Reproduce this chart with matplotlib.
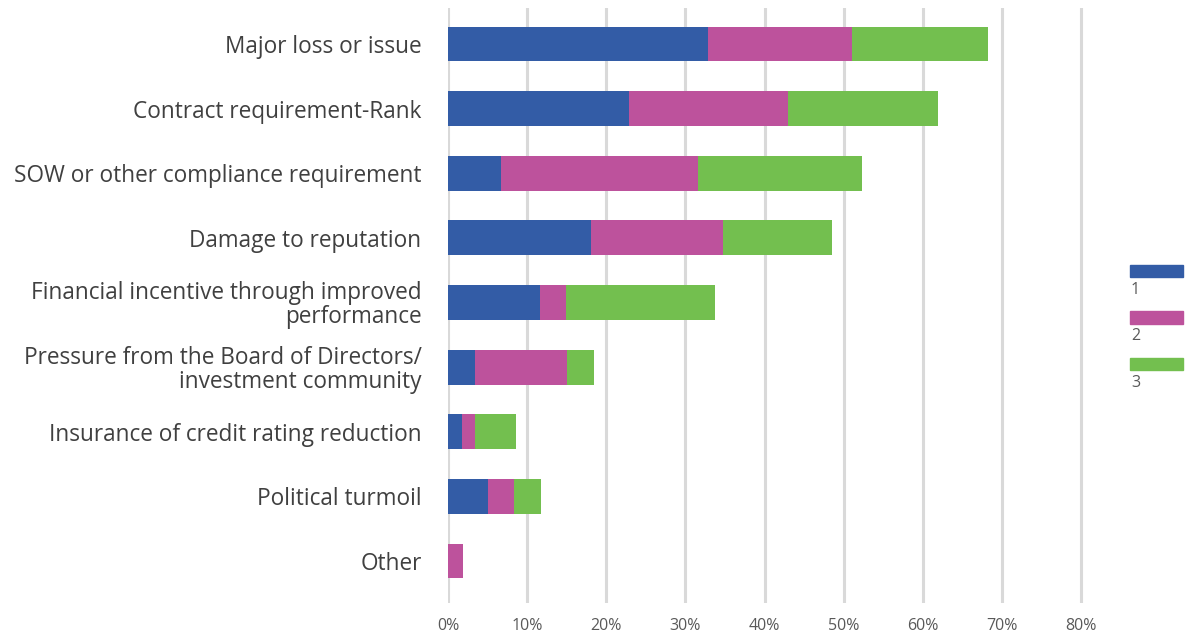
import matplotlib
matplotlib.use("Agg")
import matplotlib.pyplot as plt
import numpy as np

categories = [
    "Major loss or issue",
    "Contract requirement-Rank",
    "SOW or other compliance requirement",
    "Damage to reputation",
    "Financial incentive through improved\nperformance",
    "Pressure from the Board of Directors/\ninvestment community",
    "Insurance of credit rating reduction",
    "Political turmoil",
    "Other",
]
rank1 = [32.9, 22.9, 6.7, 18.1, 11.6, 3.4, 1.8, 5.0, 0.0]
rank2 = [18.1, 20.1, 24.9, 16.7, 3.3, 11.6, 1.6, 3.3, 1.9]
rank3 = [17.3, 18.9, 20.7, 13.7, 18.9, 3.5, 5.2, 3.5, 0.0]
series_names = ["1", "2", "3"]
colors = ["#335CA6", "#BD529C", "#73BF4F"]
xticks = [0, 10, 20, 30, 40, 50, 60, 70, 80]

plt.rcParams["font.family"] = ["Open Sans", "DejaVu Sans"]

fig = plt.figure(figsize=(11.88, 6.35), dpi=100)
W, H = 1188, 635
left, right, top, bottom = 448, 1085, 8, 603
ax = fig.add_axes([left / W, 1 - bottom / H, (right - left) / W, (bottom - top) / H])

y = np.arange(len(categories))
left_acc = np.zeros(len(categories))
for vals, col, name in zip([rank1, rank2, rank3], colors, series_names):
    v = np.array(vals)
    ax.barh(y, v, left=left_acc, height=0.54, color=col, label=name, zorder=3)
    left_acc += v

ax.set_xlim(0, 80.5)
ax.set_ylim(8.65, -0.557)
ax.set_xticks(xticks)
ax.set_xticklabels([f"{t}%" for t in xticks], fontsize=11.5, color="#595959")
ax.set_yticks(y)
ax.set_yticklabels(categories, fontsize=16.3, color="#404040", linespacing=1.0)
ax.tick_params(axis="y", length=0, pad=19)
ax.tick_params(axis="x", length=0, pad=11)
ax.grid(axis="x", color="#D9D9D9", linewidth=2.2, zorder=0)
ax.set_axisbelow(True)
for s in ax.spines.values():
    s.set_visible(False)

# legend: swatch above each label, stacked on the right
for i, (c, name) in enumerate(zip(colors, series_names)):
    ytop = 265 + i * 46.5
    fig.patches.append(plt.Rectangle((1130 / W, 1 - (ytop + 12) / H), 53 / W, 12 / H,
                                     color=c, transform=fig.transFigure, figure=fig))
    fig.text(1131 / W, 1 - (ytop + 25) / H, name, fontsize=11.5, color="#595959",
             va="center", ha="left")

fig.savefig("out.png", dpi=100)
